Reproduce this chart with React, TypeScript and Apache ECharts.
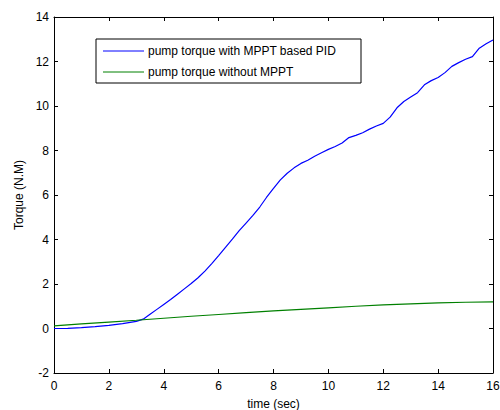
import React, { useEffect, useRef } from "react";
import * as echarts from "echarts";

const blueTime = [0, 0.5, 1, 1.5, 2, 2.5, 3, 3.25, 3.5, 3.75, 4, 4.25, 4.5, 4.75, 5, 5.25, 5.5, 5.75, 6, 6.25, 6.5, 6.75, 7, 7.25, 7.5, 7.75, 8, 8.25, 8.5, 8.75, 9, 9.25, 9.5, 9.75, 10, 10.25, 10.5, 10.75, 11, 11.25, 11.5, 11.75, 12, 12.25, 12.5, 12.75, 13, 13.25, 13.5, 13.75, 14, 14.25, 14.5, 14.75, 15, 15.25, 15.5, 15.75, 16];
const blueTorque = [0.0, 0.01, 0.04, 0.08, 0.14, 0.22, 0.32, 0.42, 0.64, 0.86, 1.08, 1.3, 1.54, 1.78, 2.02, 2.28, 2.58, 2.92, 3.28, 3.65, 4.02, 4.4, 4.74, 5.08, 5.46, 5.9, 6.3, 6.68, 6.98, 7.22, 7.42, 7.56, 7.74, 7.9, 8.05, 8.18, 8.34, 8.58, 8.68, 8.8, 8.96, 9.1, 9.22, 9.5, 9.92, 10.2, 10.4, 10.6, 10.95, 11.14, 11.28, 11.5, 11.78, 11.95, 12.1, 12.22, 12.6, 12.8, 12.97];

const greenTime = [0, 1, 2, 3, 4, 5, 6, 7, 8, 9, 10, 11, 12, 13, 14, 15, 16];
const greenTorque = [0.12, 0.21, 0.29, 0.37, 0.46, 0.55, 0.63, 0.71, 0.79, 0.86, 0.93, 1.0, 1.06, 1.11, 1.15, 1.18, 1.2];

const seriesNames = ["pump torque with MPPT based PID", "pump torque without MPPT"];
const xTitle = "time (sec)";
const yTitle = "Torque (N.M)";

const FONT = "'Liberation Sans', Arial, sans-serif";

export default function App() {
  const ref = useRef<HTMLDivElement>(null);
  useEffect(() => {
    if (!ref.current) return;
    const chart = echarts.init(ref.current, null, { renderer: "svg" });
    const L = 54, T = 17, W = 439, H = 356;
    const axisCommon = {
      type: "value",
      splitLine: { show: false },
      axisLine: { show: true, onZero: false, lineStyle: { color: "#000", width: 1 } },
      axisTick: { show: true, inside: true, length: 4, lineStyle: { color: "#000" } },
    };
    chart.setOption({
      animation: false,
      backgroundColor: "#fff",
      grid: { left: L, top: T, width: W, height: H, containLabel: false, outerBoundsMode: "none" },
      xAxis: [
        {
          ...axisCommon,
          min: 0, max: 16, interval: 2,
          position: "bottom",
          name: xTitle,
          nameLocation: "middle",
          nameGap: 25,
          nameTextStyle: { color: "#000", fontSize: 12, fontFamily: FONT },
          axisLabel: { color: "#000", fontSize: 12, fontFamily: FONT, margin: 7 },
        },
        {
          ...axisCommon,
          min: 0, max: 16, interval: 2,
          position: "top",
          axisLabel: { show: false },
        },
      ],
      yAxis: [
        {
          ...axisCommon,
          min: -2, max: 14, interval: 2,
          position: "left",
          name: yTitle,
          nameLocation: "middle",
          nameGap: 26,
          nameRotate: 90,
          nameTextStyle: { color: "#000", fontSize: 12, fontFamily: FONT },
          axisLabel: { color: "#000", fontSize: 12, fontFamily: FONT, margin: 5 },
        },
        {
          ...axisCommon,
          min: -2, max: 14, interval: 2,
          position: "right",
          axisLabel: { show: false },
        },
      ],
      series: [
        {
          name: seriesNames[0],
          type: "line",
          showSymbol: false,
          symbol: "none",
          lineStyle: { color: "#0000ff", width: 1.2 },
          data: blueTime.map((t, i) => [t, blueTorque[i]]),
        },
        {
          name: seriesNames[1],
          type: "line",
          showSymbol: false,
          symbol: "none",
          lineStyle: { color: "#008000", width: 1.2 },
          data: greenTime.map((t, i) => [t, greenTorque[i]]),
        },
      ],
      graphic: [
        {
          type: "rect",
          shape: { x: 96, y: 39, width: 265, height: 44 },
          style: { fill: "#fff", stroke: "#000", lineWidth: 1 },
          z: 10,
        },
        {
          type: "line",
          shape: { x1: 103, y1: 51, x2: 144, y2: 51 },
          style: { stroke: "#0000ff", lineWidth: 1 },
          z: 11,
        },
        {
          type: "text",
          x: 148, y: 51,
          style: { text: seriesNames[0], fill: "#000", font: `12px ${FONT}`, textVerticalAlign: "middle", verticalAlign: "middle" },
          z: 11,
        },
        {
          type: "line",
          shape: { x1: 103, y1: 72, x2: 144, y2: 72 },
          style: { stroke: "#008000", lineWidth: 1 },
          z: 11,
        },
        {
          type: "text",
          x: 148, y: 72,
          style: { text: seriesNames[1], fill: "#000", font: `12px ${FONT}`, textVerticalAlign: "middle", verticalAlign: "middle" },
          z: 11,
        },
      ],
    });
    return () => chart.dispose();
  }, []);
  return (
    <div
      ref={ref}
      style={{ position: "fixed", left: 0, top: 0, width: 500, height: 410 }}
    />
  );
}
